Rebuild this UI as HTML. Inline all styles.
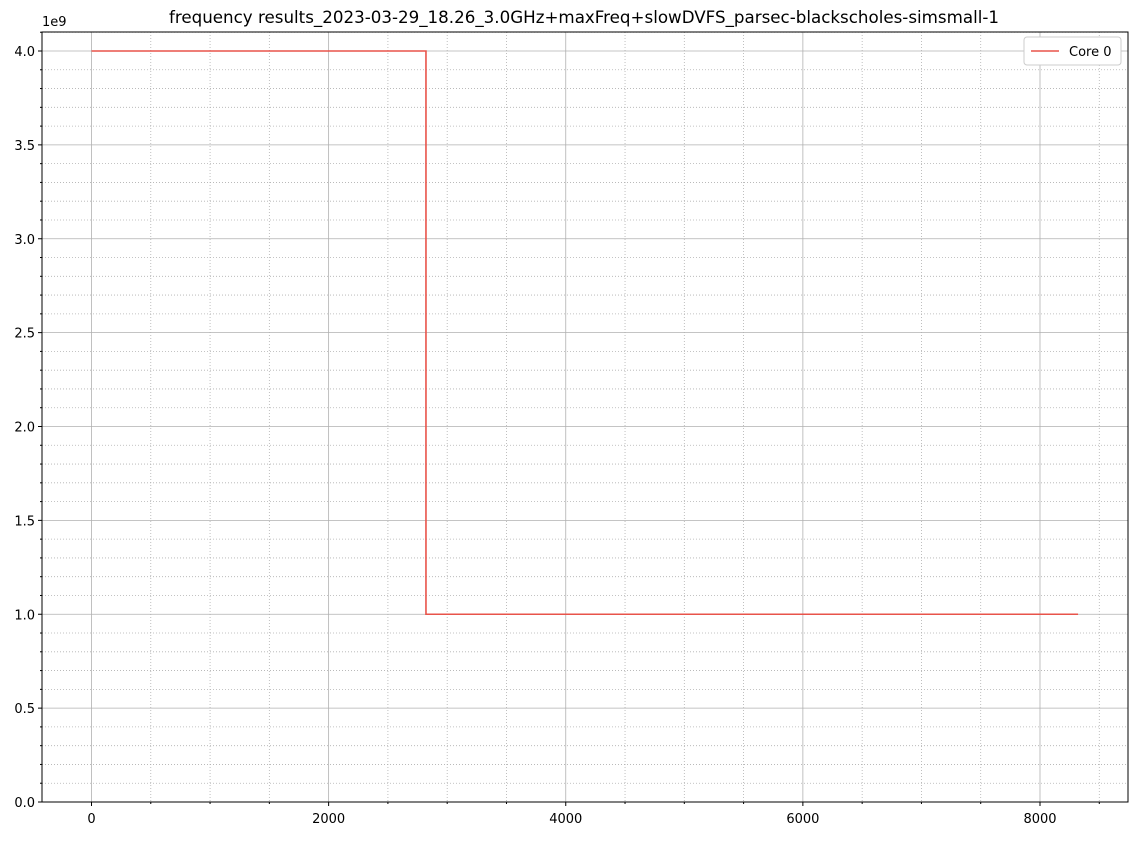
<!DOCTYPE html>
<html><head><meta charset="utf-8"><style>
body{margin:0;background:#fff;font-family:"Liberation Sans","DejaVu Sans",sans-serif;}
svg text{font-family:"DejaVu Sans","Liberation Sans",sans-serif;}
</style></head><body>
<svg id="chart" width="1140" height="836">
<text x="584" y="23" font-size="16.7" text-anchor="middle">frequency results_2023-03-29_18.26_3.0GHz+maxFreq+slowDVFS_parsec-blackscholes-simsmall-1</text>
<g id="grid"></g><g id="series"></g><g id="axes"></g>
</svg>
<script>
const xTicks=[0,2000,4000,6000,8000];
const yTicks=[0,0.5,1.0,1.5,2.0,2.5,3.0,3.5,4.0];
const yTickLabels=["0.0","0.5","1.0","1.5","2.0","2.5","3.0","3.5","4.0"];
const seriesX=[0,2821,2821,8321];
const seriesY=[4.0,4.0,1.0,1.0];
const L=42,R=1128,T=32,B=802;
const X=v=>91.5+v*(1040-91.5)/8000;
const Y=v=>802-v*187.75;
const ns="http://www.w3.org/2000/svg";
function mk(tag,attrs,parent){const e=document.createElementNS(ns,tag);for(const k in attrs)e.setAttribute(k,attrs[k]);parent.appendChild(e);return e;}
const g=document.getElementById('grid'),s=document.getElementById('series'),a=document.getElementById('axes');
for(let v=0;X(v)<R;v+=500){if(v%2000===0)continue;const l=mk('line',{x1:X(v),x2:X(v),y1:T,y2:B,stroke:'#b0b0b0','stroke-width':0.8,'stroke-dasharray':'1,2'},g);

mk('line',{x1:X(v),x2:X(v),y1:B,y2:B+2,stroke:'#000'},a);}
for(let i=0;i<=41;i++){const v=i/10;if(i%5===0)continue;const l=mk('line',{x1:L,x2:R,y1:Y(v),y2:Y(v),stroke:'#b0b0b0','stroke-width':0.8,'stroke-dasharray':'1,2'},g);

mk('line',{x1:L-2,x2:L,y1:Y(v),y2:Y(v),stroke:'#000'},a);}
xTicks.forEach(v=>{const l=mk('line',{x1:X(v),x2:X(v),y1:T,y2:B,stroke:'#b0b0b0','stroke-width':0.8},g);

mk('line',{x1:X(v),x2:X(v),y1:B,y2:B+4,stroke:'#000'},a);
const t=mk('text',{x:X(v),y:B+21,'font-size':13,'text-anchor':'middle'},a);t.textContent=v;
});
yTicks.forEach((v,i)=>{const l=mk('line',{x1:L,x2:R,y1:Y(v),y2:Y(v),stroke:'#b0b0b0','stroke-width':0.8},g);

mk('line',{x1:L-4,x2:L,y1:Y(v),y2:Y(v),stroke:'#000'},a);
const t=mk('text',{x:L-7,y:Y(v)+5,'font-size':13,'text-anchor':'end'},a);t.textContent=yTickLabels[i];
});
const e=mk('text',{x:42,y:26,'font-size':13},a);e.textContent='1e9';

const fr=mk('rect',{x:L,y:T,width:R-L,height:B-T,fill:'none',stroke:'#000','stroke-width':1},a);

const p=mk('polyline',{points:seriesX.map((x,i)=>X(x)+','+Y(seriesY[i])).join(' '),fill:'none',stroke:'#e8534a','stroke-width':1.6},s);

const lg=mk('g',{},a);
mk('rect',{x:1024,y:37,width:97,height:28,rx:3,fill:'#fff',stroke:'#ccc'},lg);
mk('line',{x1:1031,x2:1059,y1:51,y2:51,stroke:'#e8534a','stroke-width':1.5},lg);
const lt=mk('text',{x:1069,y:56,'font-size':13},lg);lt.textContent='Core 0';

</script>
</body></html>
